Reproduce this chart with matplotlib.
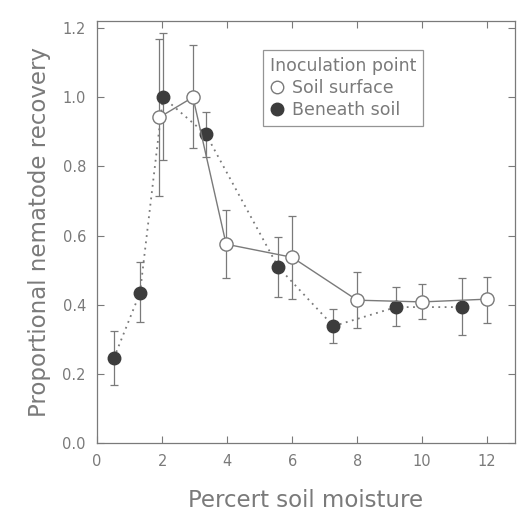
import matplotlib
matplotlib.use("Agg")
import matplotlib.pyplot as plt
from matplotlib.lines import Line2D

# Soil surface inoculation (open circles)
surf_x = [1.92, 2.95, 3.97, 6.0, 8.0, 10.0, 12.0]
surf_y = [0.942, 1.0, 0.575, 0.537, 0.413, 0.408, 0.416]
surf_lo = [0.714, 0.853, 0.477, 0.416, 0.332, 0.358, 0.347]
surf_hi = [1.168, 1.15, 0.673, 0.656, 0.494, 0.46, 0.48]

# Beneath soil inoculation (filled circles)
ben_x = [0.52, 1.32, 2.03, 3.35, 5.57, 7.27, 9.2, 11.23]
ben_y = [0.246, 0.434, 1.0, 0.893, 0.509, 0.338, 0.393, 0.393]
ben_lo = [0.168, 0.35, 0.818, 0.827, 0.422, 0.289, 0.338, 0.312]
ben_hi = [0.324, 0.523, 1.185, 0.957, 0.595, 0.387, 0.451, 0.477]

xticks = [0, 2, 4, 6, 8, 10, 12]
yticks = [0.0, 0.2, 0.4, 0.6, 0.8, 1.0, 1.2]

grey = "#7a7a7a"
dark = "#3c3c3c"

fig = plt.figure(figsize=(5.19, 5.16), dpi=100)
ax = fig.add_axes([0.187, 0.1415, 0.805, 0.8175])

def yerr(y, lo, hi):
    return [[v - l for v, l in zip(y, lo)], [h - v for v, h in zip(y, hi)]]

ax.errorbar(ben_x, ben_y, yerr=yerr(ben_y, ben_lo, ben_hi), fmt="none",
            ecolor=grey, elinewidth=0.9, capsize=3, capthick=0.9, zorder=2)
ax.errorbar(surf_x, surf_y, yerr=yerr(surf_y, surf_lo, surf_hi), fmt="none",
            ecolor=grey, elinewidth=0.9, capsize=3, capthick=0.9, zorder=2)

ax.plot(ben_x, ben_y, linestyle=(0, (1, 2.5)), color=grey, linewidth=1.3,
        marker="o", markersize=9, markerfacecolor=dark, markeredgecolor=dark,
        zorder=3)
ax.plot(surf_x, surf_y, linestyle="-", color=grey, linewidth=1.0,
        marker="o", markersize=9.5, markerfacecolor="white",
        markeredgecolor=grey, markeredgewidth=1.0, zorder=4)

ax.set_xlim(0, 12.85)
ax.set_ylim(0, 1.22)
ax.set_xticks(xticks)
ax.set_yticks(yticks)
ax.set_yticklabels([f"{v:.1f}" for v in yticks])
ax.tick_params(direction="in", top=True, right=True, length=5, width=0.8,
               colors=grey, labelsize=10.5, labelcolor=grey, pad=8)
for s in ax.spines.values():
    s.set_color(grey)
    s.set_linewidth(0.9)

ax.set_xlabel("Percert soil moisture", fontsize=16.5, color=grey, labelpad=14)
ax.set_ylabel("Proportional nematode recovery", fontsize=16.5, color=grey,
              labelpad=8)

handles = [
    Line2D([], [], linestyle="none", marker="o", markersize=9,
           markerfacecolor="white", markeredgecolor=grey),
    Line2D([], [], linestyle="none", marker="o", markersize=9,
           markerfacecolor=dark, markeredgecolor=dark),
]
leg = ax.legend(handles, ["Soil surface", "Beneath soil"],
                title="Inoculation point", loc="upper left",
                bbox_to_anchor=(0.376, 0.953), frameon=True, fancybox=False,
                edgecolor=grey, fontsize=12.5, title_fontsize=12.5,
                handletextpad=0.5, handlelength=0.8, labelspacing=0.25,
                borderpad=0.4)
leg._legend_box.align = "left"
leg.get_title().set_color(grey)
for t in leg.get_texts():
    t.set_color(grey)
leg.get_frame().set_linewidth(0.9)

fig.savefig("out.png", dpi=100)
